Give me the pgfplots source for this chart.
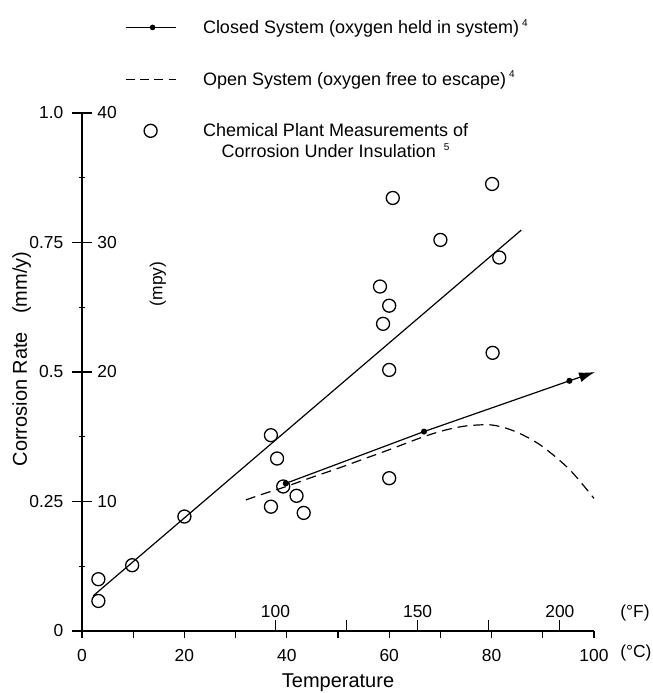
\documentclass[border=0pt]{standalone}
\usepackage{pgfplots}
\pgfplotsset{compat=1.18}
\usepackage{fontspec}
\setmainfont{Liberation Sans}
\usetikzlibrary{arrows.meta}

\newcommand\tickfont{\fontsize{8.7}{10.5}\selectfont}
\newcommand\legfont{\fontsize{9}{10.5}\selectfont}
\newcommand\supnum[1]{\raisebox{3.6pt}{\fontsize{5}{5}\selectfont #1}}

\begin{document}
\begin{tikzpicture}
\useasboundingbox (-41pt,-31pt) rectangle (285.5pt,315.5pt);

% main axis: data, mm/y scale and degrees C
\begin{axis}[
  at={(0pt,0pt)}, anchor=south west,
  scale only axis, width=256pt, height=259pt,
  xmin=0, xmax=100, ymin=0, ymax=1,
  axis x line=bottom, axis y line=left,
  x axis line style={-, line width=1.3pt},
  y axis line style={-, line width=0.9pt},
  clip=false,
  tick label style={font=\tickfont, inner sep=0pt},
  label style={font=\fontsize{10}{12}\selectfont},
  /pgf/number format/assume math mode=true,
  tick align=center,
  xtick={0,20,40,60,80,100},
  minor xtick={10,30,50,70,90},
  xtick style={/pgfplots/major tick length=3.5pt, /pgfplots/minor tick length=3.5pt, yshift=-1.75pt, line width=0.6pt, black},
  xticklabel style={anchor=base, yshift=-13pt},
  ytick={0,0.25,0.5,0.75,1},
  yticklabels={0,0.25,0.5,0.75,1.0},
  minor ytick={0.125,0.375,0.625,0.875},
  ytick style={/pgfplots/major tick length=10pt, /pgfplots/minor tick length=3pt, line width=0.6pt, black},
  yticklabel style={anchor=east, xshift=-7pt},
  xlabel={Temperature},
  xlabel style={at={(axis description cs:0.5,-0.100)}, anchor=center},
  ylabel={Corrosion Rate\hspace{0.9em}(mm/y)},
  ylabel style={at={(axis description cs:-0.118,0.525)}, anchor=center},
  legend style={at={(axis description cs:0.084,1.182)}, anchor=north west,
    draw=none, fill=none, inner sep=0pt, outer sep=0pt, row sep=17pt,
    font=\legfont, nodes={inner sep=0pt}, cells={anchor=base west}},
]
\addlegendimage{legend image code/.code={
  \draw[black, line width=0.6pt] (0pt,3pt) -- (25pt,3pt);
  \fill[black] (13.5pt,3pt) circle (1.2pt);
  \path (38.5pt,0pt);}}
\addlegendentry{Closed System (oxygen held in system)\hspace{1.5pt}\supnum{4}\strut}
\addlegendimage{legend image code/.code={
  \draw[black, line width=0.6pt, dash pattern=on 4.5pt off 2.7pt] (0pt,3pt) -- (25pt,3pt);
  \path (38.5pt,0pt);}}
\addlegendentry{Open System (oxygen free to escape)\hspace{1.5pt}\supnum{4}\strut}
\addlegendimage{legend image code/.code={
  \draw[black, line width=0.65pt] (12.5pt,3pt) circle (3.25pt);
  \path (0pt,0pt) (38.5pt,0pt);}}
\addlegendentry{\begin{tabular}[t]{@{}c@{}}Chemical Plant Measurements of\\Corrosion Under Insulation\hspace{4pt}\supnum{5}\end{tabular}}

% trend line through the plant measurements
\addplot[black, line width=0.6pt, forget plot] coordinates {(2.2,0.068) (85.8,0.774)};

% closed system
\addplot[black, line width=0.6pt, mark=*, mark size=1.2pt, mark indices={1,2,3},
  -{Latex[length=8pt,width=5pt]}, forget plot]
  coordinates {(39.8,0.285) (66.8,0.385) (95.2,0.483) (100.2,0.500)};

% open system
\addplot[black, line width=0.6pt, dash pattern=on 5pt off 3pt, smooth, tension=0.5, forget plot]
  coordinates {(32.0,0.253) (35.5,0.265) (39.6,0.278) (45,0.297) (50,0.314) (55,0.332)
    (60,0.350) (66.7,0.375) (71,0.388) (75.1,0.396) (79.7,0.398) (83,0.391) (86.2,0.378)
    (90.1,0.355) (95.3,0.311) (100,0.256)};

% chemical plant measurements
\addplot[only marks, mark=o, mark size=3.25pt, mark options={line width=0.65pt}, black, forget plot]
  coordinates {(3.2,0.058) (3.2,0.100) (9.8,0.127) (20.0,0.221) (36.9,0.378)
    (38.1,0.333) (39.3,0.279) (41.9,0.261) (36.9,0.240) (43.3,0.228) (60.0,0.295)
    (60.0,0.504) (58.8,0.593) (60.0,0.628) (58.2,0.665) (60.7,0.836) (70.0,0.755)
    (80.1,0.863) (81.5,0.721) (80.2,0.537)};

% mpy scale on the right of the axis line
\node[anchor=west, inner sep=0pt, font=\tickfont] at (axis cs:0,0.25) [xshift=7.5pt] {10};
\node[anchor=west, inner sep=0pt, font=\tickfont] at (axis cs:0,0.5) [xshift=7.5pt] {20};
\node[anchor=west, inner sep=0pt, font=\tickfont] at (axis cs:0,0.75) [xshift=7.5pt] {30};
\node[anchor=west, inner sep=0pt, font=\tickfont] at (axis cs:0,1) [xshift=7.5pt] {40};
\node[rotate=90, font=\tickfont] at (axis cs:14.8,0.67) {(mpy)};
\node[anchor=base west, inner sep=0pt, font=\tickfont] at (axis cs:100,0) [xshift=13pt, yshift=-13pt] {(°C)};
\end{axis}

% degrees F scale above the x axis line
\begin{axis}[
  at={(0pt,0pt)}, anchor=south west,
  scale only axis, width=256pt, height=259pt,
  xmin=32, xmax=212, ymin=0, ymax=1,
  axis x line=bottom, hide y axis,
  x axis line style={draw=none, -},
  clip=false,
  tick align=inside,
  major tick length=5.5pt, minor tick length=5.5pt,
  xtick={100,150,200}, minor xtick={125,175},
  xtick style={line width=0.6pt, black},
  tick label style={font=\tickfont, inner sep=0pt},
  /pgf/number format/assume math mode=true,
  xticklabel style={anchor=base, yshift=7pt},
]
\node[anchor=base west, inner sep=0pt, font=\tickfont] at (axis cs:212,0) [xshift=13pt, yshift=7pt] {(°F)};
\end{axis}
\end{tikzpicture}
\end{document}
